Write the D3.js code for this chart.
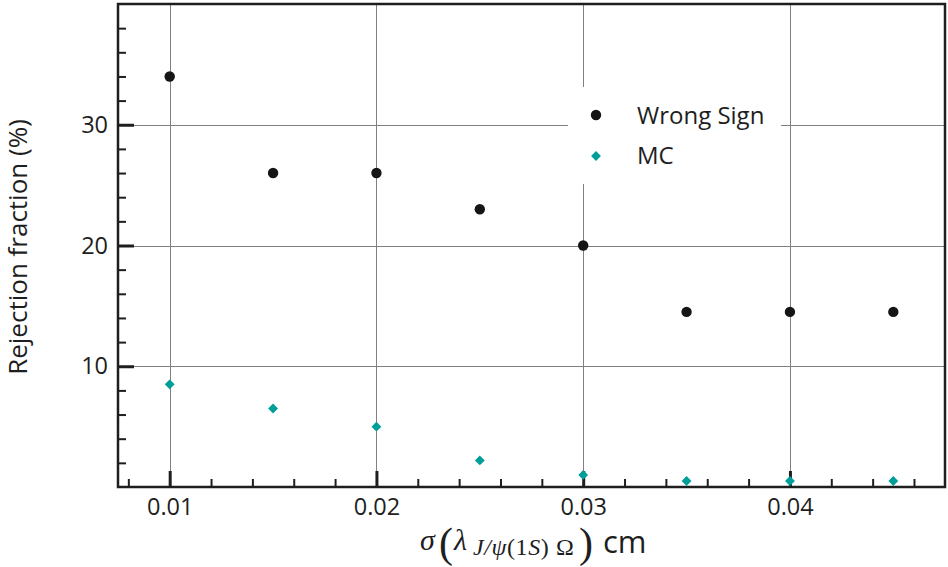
<!DOCTYPE html>
<html>
<head>
<meta charset="utf-8">
<script src="https://cdn.jsdelivr.net/npm/d3@7"></script>
<style>
  html, body { margin: 0; padding: 0; background: #fff; }
  svg { display: block; }
</style>
</head>
<body>
<svg id="chart" width="948" height="567"></svg>
<script>
const sigma = [0.010, 0.015, 0.020, 0.025, 0.030, 0.035, 0.040, 0.045];
const wrongSign = [34, 26, 26, 23, 20, 14.5, 14.5, 14.5];
const mc = [8.5, 6.5, 5.0, 2.2, 1.0, 0.5, 0.5, 0.5];
const xMajorTicks = [0.01, 0.02, 0.03, 0.04];
const xTickLabels = ["0.01", "0.02", "0.03", "0.04"];
const xMinorTicks = [0.008, 0.012, 0.014, 0.016, 0.018, 0.022, 0.024, 0.026, 0.028, 0.032, 0.034, 0.036, 0.038, 0.042, 0.044, 0.046];
const yMajorTicks = [10, 20, 30];
const yTickLabels = ["10", "20", "30"];
const yMinorTicks = [2, 4, 6, 8, 12, 14, 16, 18, 22, 24, 26, 28, 32, 34, 36, 38];
const seriesNames = ["Wrong Sign", "MC"];

const svg = d3.select("#chart");
const L = 118, R = 945, T = 4, B = 487;
const x = d3.scaleLinear().domain([0.0075, 0.0475]).range([L, R]);
const y = d3.scaleLinear().domain([0, 40]).range([B, T]);
const sans = "'Open Sans', 'Noto Sans', sans-serif";
const ink = "#1e1e1e";

// grid
const grid = svg.append("g").attr("stroke", "#808080").attr("stroke-width", 1);
grid.selectAll("line.v").data(xMajorTicks).join("line")
  .attr("x1", d => Math.round(x(d)) + 0.5).attr("x2", d => Math.round(x(d)) + 0.5)
  .attr("y1", T).attr("y2", B);
grid.selectAll("line.h").data(yMajorTicks).join("line")
  .attr("x1", L).attr("x2", R)
  .attr("y1", d => Math.round(y(d)) + 0.5).attr("y2", d => Math.round(y(d)) + 0.5);

// legend background
svg.append("rect").attr("x", 568).attr("y", 87).attr("width", 213).attr("height", 97).attr("fill", "#fff");

// axes
function styleAxis(g, w) {
  g.select(".domain").remove();
  g.selectAll(".tick line").attr("stroke", ink).attr("stroke-width", w);
  g.selectAll(".tick text").attr("fill", ink).style("font-family", sans).style("font-size", "23.5px");
}
const xAxisMinor = svg.append("g").attr("transform", `translate(0,${B})`)
  .call(d3.axisBottom(x).tickValues(xMinorTicks).tickSizeInner(-8).tickSizeOuter(0).tickFormat(""));
styleAxis(xAxisMinor, 2);
const xAxis = svg.append("g").attr("transform", `translate(0,${B})`)
  .call(d3.axisBottom(x).tickValues(xMajorTicks).tickSizeInner(-16).tickSizeOuter(0).tickPadding(11)
    .tickFormat((d, i) => xTickLabels[i]));
styleAxis(xAxis, 3);

const yAxisMinor = svg.append("g").attr("transform", `translate(${L},0)`)
  .call(d3.axisLeft(y).tickValues(yMinorTicks).tickSizeInner(-8).tickSizeOuter(0).tickFormat(""));
styleAxis(yAxisMinor, 2);
const yAxis = svg.append("g").attr("transform", `translate(${L},0)`)
  .call(d3.axisLeft(y).tickValues(yMajorTicks).tickSizeInner(-16).tickSizeOuter(0).tickPadding(10)
    .tickFormat((d, i) => yTickLabels[i]));
styleAxis(yAxis, 3);

// frame
svg.append("rect").attr("x", L).attr("y", T).attr("width", R - L).attr("height", B - T)
  .attr("fill", "none").attr("stroke", ink).attr("stroke-width", 2.5);

// data
const wsData = sigma.map((s, i) => ({ s, v: wrongSign[i] }));
const mcData = sigma.map((s, i) => ({ s, v: mc[i] }));
svg.append("g").selectAll("circle").data(wsData).join("circle")
  .attr("cx", d => x(d.s)).attr("cy", d => y(d.v)).attr("r", 5.2).attr("fill", "#151515");
const diamond = d3.symbol().type(d3.symbolDiamond2).size(62);
svg.append("g").selectAll("path").data(mcData).join("path")
  .attr("d", diamond).attr("transform", d => `translate(${x(d.s)},${y(d.v)})`)
  .attr("fill", "#009e98");

// legend
const lg = svg.append("g");
lg.append("circle").attr("cx", 596).attr("cy", 115).attr("r", 5.2).attr("fill", "#151515");
lg.append("path").attr("d", diamond).attr("transform", "translate(596,156)").attr("fill", "#009e98");
lg.append("text").attr("x", 637).attr("y", 124).text(seriesNames[0])
  .attr("fill", ink).style("font-family", sans).style("font-size", "24px");
lg.append("text").attr("x", 637).attr("y", 164).text(seriesNames[1])
  .attr("fill", ink).style("font-family", sans).style("font-size", "24px");

// y label
svg.append("text").attr("transform", "translate(27,247) rotate(-90)").attr("text-anchor", "middle")
  .attr("fill", ink).style("font-family", sans).style("font-size", "26px")
  .text("Rejection fraction (%)");

// x label
const serif = "'Liberation Serif', 'DejaVu Serif', serif";
const xl = svg.append("g").attr("fill", ink).style("font-family", serif);
xl.append("text").attr("x", 420).attr("y", 550).style("font-size", "30px").style("font-style", "italic").text("σ");
xl.append("text").attr("x", 439).attr("y", 557).style("font-size", "42px").text("(");
xl.append("text").attr("x", 454).attr("y", 550).style("font-size", "30px").style("font-style", "italic").text("λ");
const sub = xl.append("text").attr("x", 473).attr("y", 555).style("font-size", "24px").style("letter-spacing", "0.6px");
sub.append("tspan").style("font-style", "italic").text("J/ψ");
sub.append("tspan").text("(1");
sub.append("tspan").style("font-style", "italic").text("S");
sub.append("tspan").text(")\u00A0Ω");
xl.append("text").attr("x", 579).attr("y", 557).style("font-size", "42px").text(")");
xl.append("text").attr("x", 603).attr("y", 553).style("font-family", sans).style("font-size", "31px").text("cm");
</script>
</body>
</html>
